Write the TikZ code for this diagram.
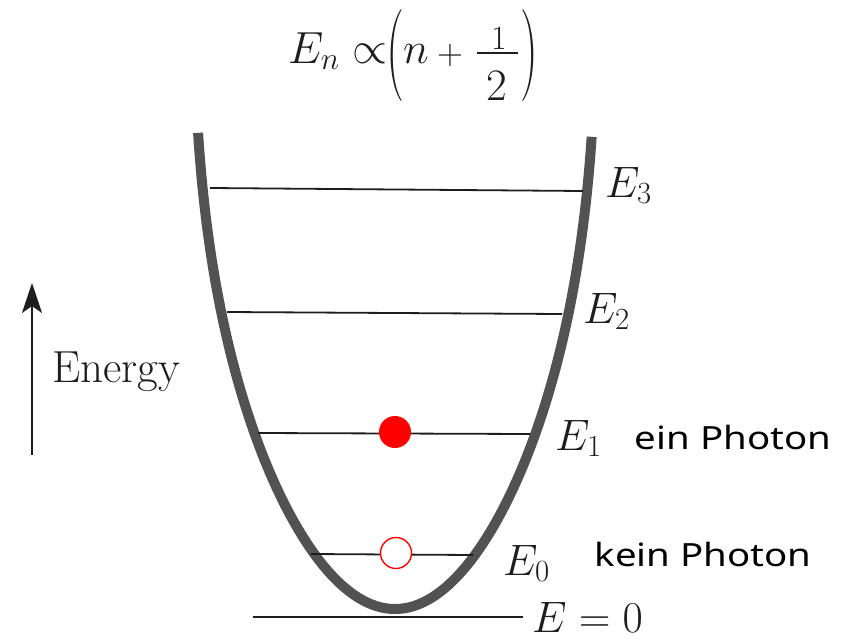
\RequirePackage{fix-cm}
\documentclass[tikz,border=0pt]{standalone}
\usepackage{fontspec}
\usepackage{graphicx}
\newfontfamily\hand{Noto Sans}
\usetikzlibrary{arrows.meta}
\definecolor{wellgray}{RGB}{82,82,82}
\definecolor{levelblack}{RGB}{30,30,30}
\newcommand{\tallparen}[1]{\scalebox{0.55}[1]{\fontsize{92}{92}\selectfont #1}}
\begin{document}
\begin{tikzpicture}[x=1pt,y=-1pt,
  level/.style={line width=1.8pt, draw=levelblack},
  lab/.style={font=\fontsize{44}{48}\selectfont, anchor=base west, inner sep=0pt, text=levelblack},
  paren/.style={inner sep=0pt, text=levelblack, anchor=center},
  hw/.style={font=\hand\fontsize{32}{36}\selectfont, inner sep=0pt},
  filleddot/.style={circle, fill=red, minimum size=32pt, inner sep=0pt},
  opendot/.style={circle, draw=red, fill=white, line width=1.4pt, minimum size=31pt, inner sep=0pt}]
\useasboundingbox (0,0) rectangle (849,640);

% potential well
\draw[line width=10pt, draw=wellgray, line cap=butt]
  plot[domain=-21.82:21.73, samples=140, variable=\s, smooth]
  ({395 + 10.9*\s/(1+(\s*\s/1044.5)^2)}, {609 - \s*\s});

% levels
\coordinate (l3a) at (210,188); \coordinate (l3b) at (583,191);
\coordinate (l2a) at (227,312); \coordinate (l2b) at (562,314);
\coordinate (l1a) at (258,433); \coordinate (l1b) at (530,434);
\coordinate (l0a) at (311,554); \coordinate (l0b) at (473,555);
\coordinate (lza) at (253,617); \coordinate (lzb) at (523,617);
\draw[level] (l3a) -- (l3b);
\draw[level] (l2a) -- (l2b);
\draw[level] (l1a) -- (l1b);
\draw[level] (l0a) -- (l0b);
\draw[level] (lza) -- (lzb);

% dots
\node[filleddot] (p1) at (395,432) {};
\node[opendot] (p0) at (396,553) {};

% level labels
\node[lab] (e3) at (605,197) {$E_3$};
\node[lab] (e2) at (583,323) {$E_2$};
\node[lab] (e1) at (555,450) {$E_1$};
\node[lab] (e0) at (503,575) {$E_0$};
\node[lab] (ez) at (532,632) {$E=0$};

% formula
\node[lab, font=\fontsize{45}{50}\selectfont] (fe) at (288,63) {$E_n\propto$};
\node[paren] (lp) at (395,56) {\tallparen{(}};
\node[lab, font=\fontsize{44}{50}\selectfont] (fn) at (403,63) {$n$};
\node[lab, font=\fontsize{36}{40}\selectfont] (fplus) at (437,64) {$+$};
\node[lab, anchor=base, font=\fontsize{34}{36}\selectfont] (fnum) at (499,49) {1};
\node[lab, anchor=base, font=\fontsize{45}{48}\selectfont] (fden) at (497,100) {2};
\coordinate (barl) at (477,53); \coordinate (barr) at (518,53);
\draw[line width=1.6pt, draw=levelblack] (barl) -- (barr);
\node[paren] (rp) at (529,56) {\tallparen{)}};

% energy arrow
\coordinate (ab) at (32,455);
\coordinate (at) at (32,283);
\draw[line width=2pt, draw=levelblack, -{Stealth[length=30pt,width=20pt,inset=7pt]}] (ab) -- (at);
\node[lab, font=\fontsize{45}{48}\selectfont] (energy) at (52,382) {Energy};

% photon annotations
\node[hw] (ein) at (733,437) {\scalebox{1.2}[1]{ein Photon}};
\node[hw] (kein) at (703,554) {\scalebox{1.2}[1]{kein Photon}};
\end{tikzpicture}
\end{document}
